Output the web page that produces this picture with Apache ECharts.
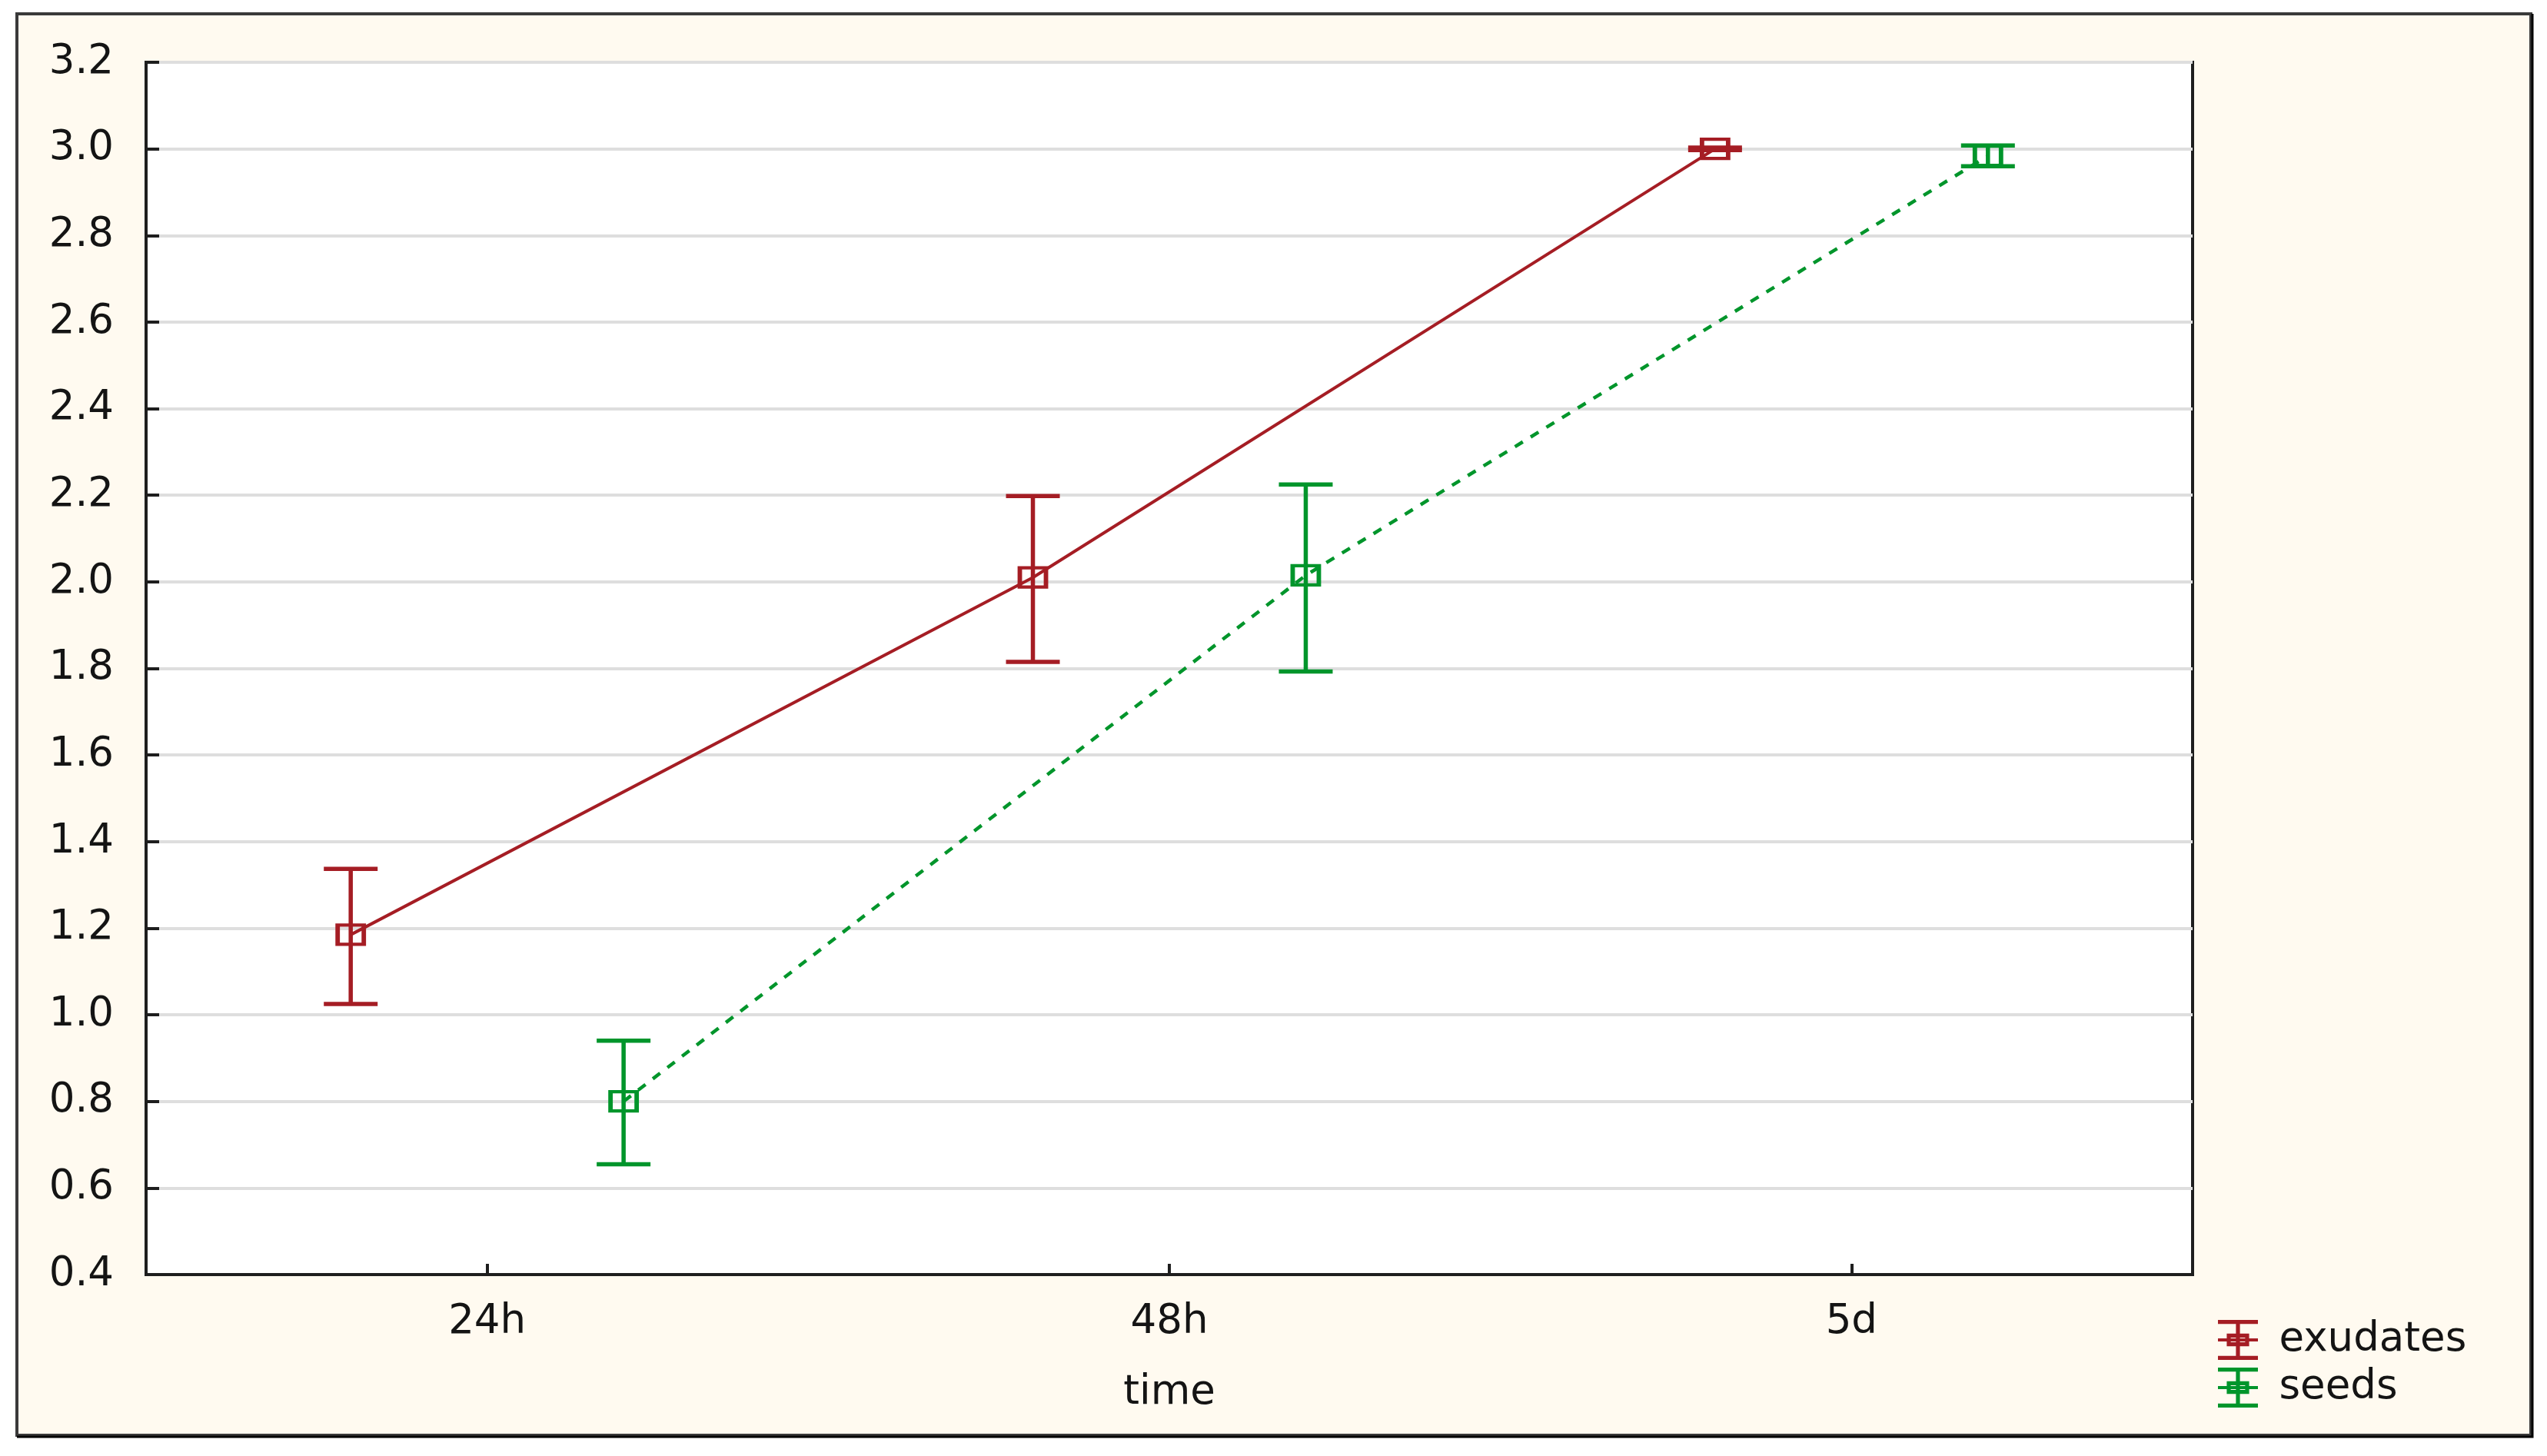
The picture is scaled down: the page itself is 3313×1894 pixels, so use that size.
<!DOCTYPE html>
<html><head><meta charset="utf-8">
<script src="https://cdn.jsdelivr.net/npm/echarts@6/dist/echarts.min.js"></script>
<style>html,body{margin:0;padding:0;background:#fff}#c{width:3313px;height:1894px}</style>
</head><body><div id="c"></div>
<script>
// ---- data ----
const categories = ['24h', '48h', '5d'];
const seriesNames = ['exudates', 'seeds'];
const exudatesMean = [1.185, 2.010, 3.000];
const exudatesLow  = [1.025, 1.815, 2.997];
const exudatesHigh = [1.337, 2.198, 3.003];
const seedsMean = [0.800, 2.015, 2.984];
const seedsLow  = [0.655, 1.793, 2.960];
const seedsHigh = [0.940, 2.225, 3.008];
const yMin = 0.4, yMax = 3.2, yStep = 0.2;

// ---- style ----
const RED = '#a51d24', GREEN = '#00952b';
const OFFSET = 0.2;           // horizontal offset of each group within a category
const FONT = 'DejaVu Sans';
const TXT = '#141414';

function pts(mean, off) { return mean.map((v, i) => [i + off, v]); }
function bars(low, high, off) { return low.map((v, i) => [i + off, v, high[i]]); }

function errRender(color) {
  return function (params, api) {
    const x = api.value(0);
    const lo = api.coord([x, api.value(1)]);
    const hi = api.coord([x, api.value(2)]);
    const hw = 35;
    const st = { stroke: color, lineWidth: 5.5, fill: null };
    return {
      type: 'group',
      children: [
        { type: 'line', shape: { x1: lo[0], y1: lo[1], x2: hi[0], y2: hi[1] }, style: st },
        { type: 'line', shape: { x1: hi[0] - hw, y1: hi[1], x2: hi[0] + hw, y2: hi[1] }, style: st },
        { type: 'line', shape: { x1: lo[0] - hw, y1: lo[1], x2: lo[0] + hw, y2: lo[1] }, style: st }
      ]
    };
  };
}

const iconPath = 'path://M0 0H100V10H0Z M0 90H100V100H0Z M45 10H55V90H45Z ' +
  'M22 34H78V44H22Z M22 56H78V66H22Z M22 34H32V66H22Z M68 34H78V66H68Z M0 46H100V54H0Z';

const chart = echarts.init(document.getElementById('c'), null, { renderer: 'canvas' });
chart.setOption({
  backgroundColor: '#ffffff',
  animation: false,
  graphic: [
    { type: 'rect', z: -10, shape: { x: 22, y: 18, width: 3270, height: 1849 },
      style: { fill: '#fffaf0', stroke: '#3a3a3a', lineWidth: 4 } },
    { type: 'polyline', z: -9, shape: { points: [[3294, 18], [3294, 1869], [22, 1869]] },
      style: { stroke: '#000', lineWidth: 3, fill: null } }
  ],
  grid: {
    left: 190, top: 81, right: 3313 - 2852, bottom: 1894 - 1658,
    show: true, backgroundColor: '#ffffff', borderColor: '#1e1e1e', borderWidth: 4, z: 0
  },
  legend: {
    orient: 'vertical', left: 2880, top: 1710,
    itemWidth: 53, itemHeight: 52, itemGap: 6,
    textStyle: { fontFamily: FONT, fontSize: 53, color: TXT, padding: [0, 0, 0, 22], lineHeight: 56 },
    data: [
      { name: seriesNames[0], icon: iconPath, itemStyle: { color: RED, borderWidth: 0 } },
      { name: seriesNames[1], icon: iconPath, itemStyle: { color: GREEN, borderWidth: 0 } }
    ]
  },
  xAxis: [
    {
      type: 'category', data: categories, boundaryGap: true,
      name: 'time', nameLocation: 'middle', nameGap: 128,
      nameTextStyle: { fontFamily: FONT, fontSize: 53, color: TXT },
      axisLine: { show: true, onZero: false, lineStyle: { color: '#1e1e1e', width: 4 } },
      axisTick: { show: true, inside: true, alignWithLabel: true, length: 14, lineStyle: { color: '#1e1e1e', width: 4 } },
      axisLabel: { margin: 36, fontFamily: FONT, fontSize: 53, color: TXT },
      splitLine: { show: false }
    },
    { type: 'value', min: -0.5, max: 2.5, show: false, splitLine: { show: false } }
  ],
  yAxis: {
    type: 'value', min: yMin, max: yMax, interval: yStep,
    axisLine: { show: true, onZero: false, lineStyle: { color: '#1e1e1e', width: 4 } },
    axisTick: { show: true, inside: true, length: 17, lineStyle: { color: '#1e1e1e', width: 4 } },
    axisLabel: { margin: 42, fontFamily: FONT, fontSize: 53, color: TXT, formatter: v => v.toFixed(1) },
    splitLine: { show: true, lineStyle: { color: '#dedede', width: 4 } }
  },
  series: [
    { name: seriesNames[0] + ' err', type: 'custom', xAxisIndex: 1, renderItem: errRender(RED),
      data: bars(exudatesLow, exudatesHigh, -OFFSET), z: 3 },
    { name: seriesNames[1] + ' err', type: 'custom', xAxisIndex: 1, renderItem: errRender(GREEN),
      data: bars(seedsLow, seedsHigh, OFFSET), z: 3 },
    { name: seriesNames[0], type: 'line', xAxisIndex: 1, data: pts(exudatesMean, -OFFSET),
      symbol: 'rect', symbolSize: [34, 25], showSymbol: true,
      lineStyle: { color: RED, width: 4 },
      itemStyle: { color: 'rgba(255,255,255,0)', borderColor: RED, borderWidth: 5 }, z: 4 },
    { name: seriesNames[1], type: 'line', xAxisIndex: 1, data: pts(seedsMean, OFFSET),
      symbol: 'rect', symbolSize: [34, 25], showSymbol: true,
      lineStyle: { color: GREEN, width: 4.5, type: [12, 12] },
      itemStyle: { color: 'rgba(255,255,255,0)', borderColor: GREEN, borderWidth: 5 }, z: 4 }
  ]
});
</script>
</body></html>
